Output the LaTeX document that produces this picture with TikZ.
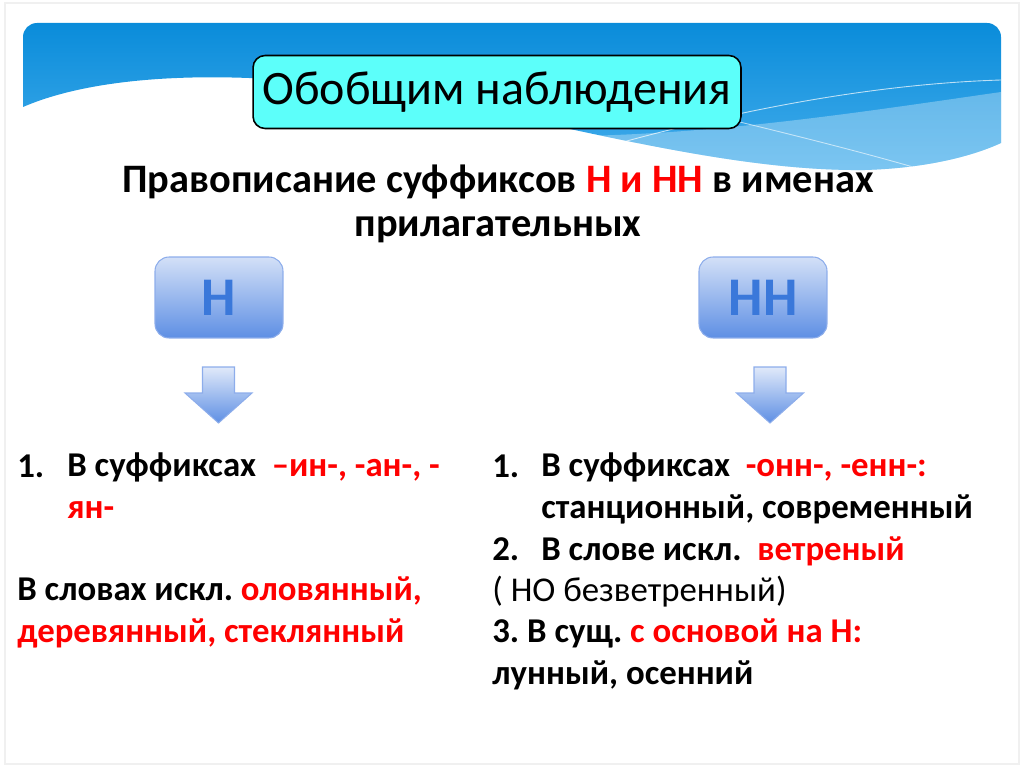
\documentclass[tikz,border=0pt]{standalone}
\usepackage{fontspec}
\setmainfont{Carlito}
\usepackage{tikz}
\usetikzlibrary{positioning}
\usepackage{xcolor}
\frenchspacing

\definecolor{bannertop}{HTML}{0A8CDA}
\definecolor{bannerbot}{HTML}{45AEEC}
\definecolor{headfill}{HTML}{5CFFFA}
\definecolor{boxtop}{HTML}{D3E0F7}
\definecolor{boxbot}{HTML}{5E8FE4}
\definecolor{boxline}{HTML}{8DADEB}
\definecolor{letterblue}{HTML}{3A78DA}
\definecolor{hlred}{HTML}{FF0000}

\newcommand{\hl}[1]{\textcolor{hlred}{#1}}

\begin{document}
\begin{tikzpicture}[
    x=0.02cm, y=-0.02cm,
    headbox/.style={draw=black, line width=0.9pt, fill=headfill, rounded corners=0.24cm,
      minimum width=9.76cm, minimum height=1.46cm, font=\fontsize{27.3}{30}\selectfont},
    topic/.style={align=center, anchor=base, inner sep=0pt,
      font=\fontsize{23}{25}\selectfont\bfseries},
    letterbox/.style={draw=boxline, line width=0.6pt, top color=boxtop, bottom color=boxbot,
      rounded corners=0.28cm, minimum width=2.56cm, minimum height=1.62cm,
      text=letterblue, font=\fontsize{31}{34}\selectfont\bfseries},
    arrowfill/.style={draw=boxline, line width=0.6pt, top color=boxtop!70!white, bottom color=boxbot},
    body/.style={anchor=base west, inner sep=0pt, align=left,
      font=\fontsize{19.8}{23.6}\selectfont\bfseries},
    downarrow/.pic={
      \path[arrowfill] (-16,-28) -- (16,-28) -- (16,-2) -- (33.5,-2) -- (0,28)
        -- (-33.5,-2) -- (-16,-2) -- cycle;
    },
  ]
  \useasboundingbox (0,0) rectangle (1024,767);
  \draw[gray!12, line width=0.6pt] (5,3) rectangle (1019,764);

  % banner with wave
  \begin{scope}
    \clip[rounded corners=0.28cm] (23,23) rectangle (1001,400);
    \clip (23,107) .. controls (90,78) and (200,70) .. (330,84)
      .. controls (500,104) and (700,172) .. (865,170)
      .. controls (930,168) and (975,155) .. (1001,143) -- (1001,23) -- (23,23) -- cycle;
    \shade[top color=bannertop, bottom color=bannerbot] (23,23) rectangle (1001,175);
    \fill[white, opacity=0.3] (420,130) .. controls (620,150) and (820,118) .. (1001,92)
      -- (1001,200) -- (420,200) -- cycle;
    \draw[white, opacity=0.7, line width=0.5pt] (560,160) .. controls (720,112) and (870,84) .. (1001,80);
    \draw[white, opacity=0.6, line width=0.5pt] (640,98) .. controls (740,122) and (850,148) .. (930,172);
  \end{scope}

  \node[headbox] (head) at (497,92) {Обобщим наблюдения};
  \node[topic] (topic) at (498,236) {Правописание суффиксов \hl{Н и НН} в именах\\прилагательных};

  \node[letterbox] (single) at (219,297.5) {Н};
  \node[letterbox] (double) at (763,297.5) {НН};
  \pic (arrowsingle) at (218.5,395) {downarrow};
  \pic (arrowdouble) at (770,395) {downarrow};

  % left column
  \node[body] (numL) at (17,477) {1.};
  \node[body] (itemL) at (67,518) {В суффиксах\ \ \hl{–ин-, -ан-, -}\\\hl{ян-}};
  \node[body] (exceptL) at (17,642) {В словах искл. \hl{оловянный,}\\\hl{деревянный, стеклянный}};

  % right column
  \node[body] (numR) at (492,477) {1.};
  \node[body] (itemR) at (541,518) {В суффиксах\ \ \hl{-онн-, -енн-:}\\станционный, современный};
  \node[body] (numRb) at (492,560) {2.};
  \node[body] (itemRb) at (541,560) {В слове искл.\ \ \hl{ветреный}};
  \node[body] (restR) at (492,684) {{\mdseries ( НО безветренный)}\\3. В сущ. \hl{с основой на Н:}\\лунный, осенний};
\end{tikzpicture}
\end{document}
